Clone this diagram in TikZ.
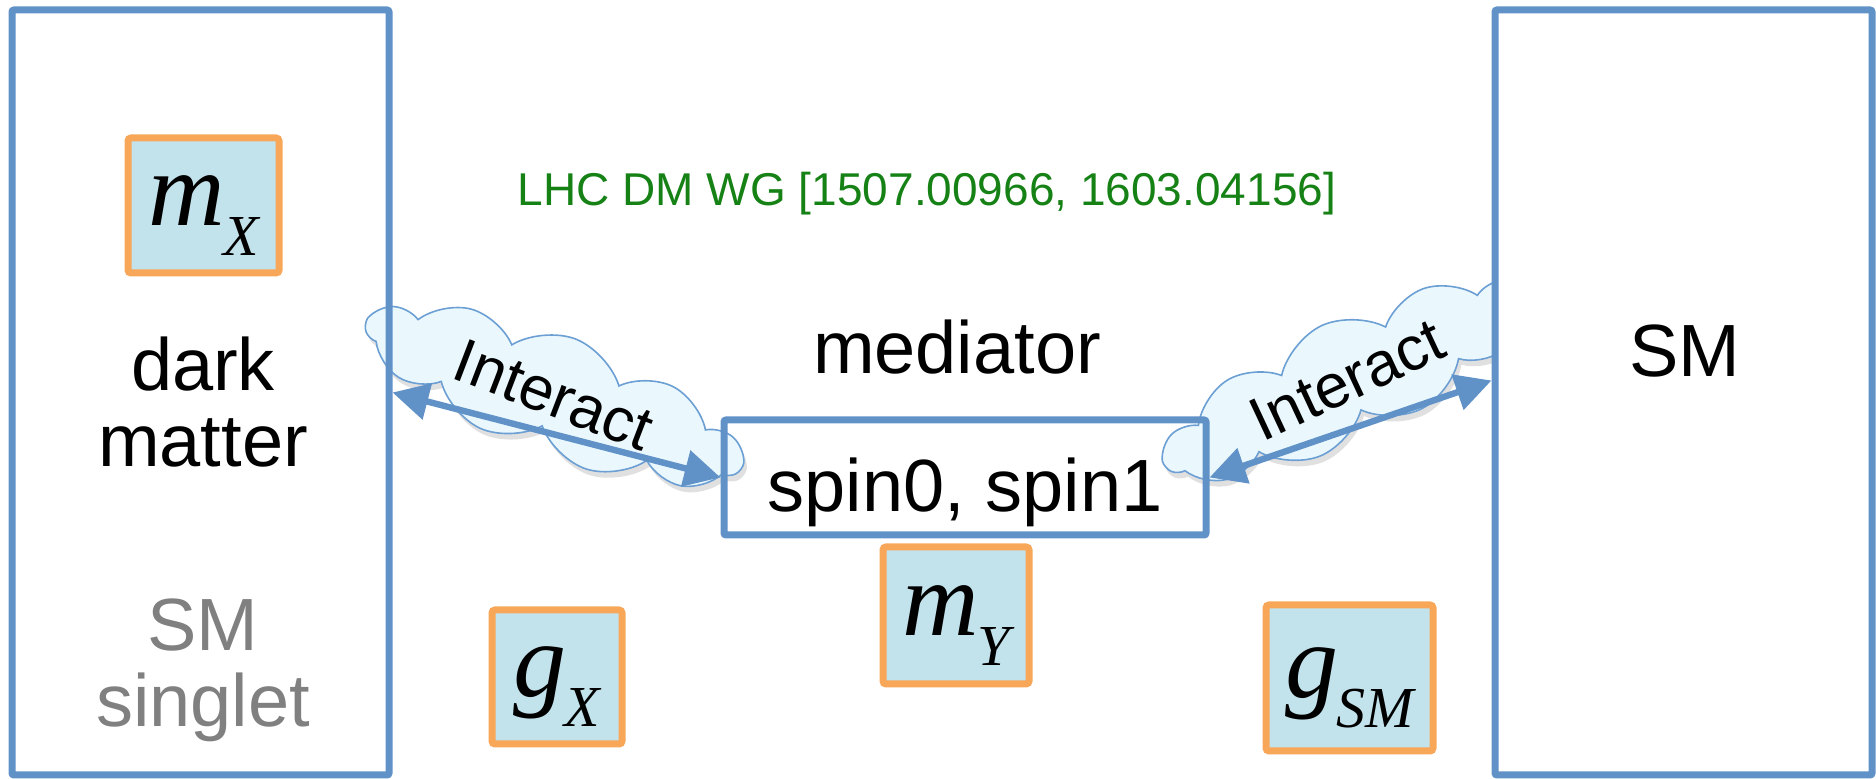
\documentclass[tikz,border=0pt]{standalone}
\usepackage{fontspec}
\setmainfont{Liberation Sans}
\newfontfamily\tms{Liberation Serif}
\usetikzlibrary{shapes.symbols,shadows,arrows.meta,calc}
\definecolor{bblue}{RGB}{96,146,200}
\definecolor{oorange}{RGB}{248,167,88}
\definecolor{pfill}{RGB}{195,227,236}
\definecolor{cfill}{RGB}{234,248,254}
\definecolor{cblue}{RGB}{108,159,211}
\definecolor{ggreen}{RGB}{22,130,22}
\definecolor{ggray}{RGB}{128,128,128}
\newcommand{\prm}[2]{{\tms\itshape\fontsize{53}{53}\selectfont #1\kern-1pt\fontsize{29}{29}\selectfont\raisebox{-15pt}{#2}}}
\tikzset{
  bigbox/.style={draw=bblue, line width=3.5pt, rounded corners=1pt, inner sep=0pt},
  prmbox/.style={draw=oorange, fill=pfill, line width=3.5pt, rounded corners=1.5pt, inner sep=0pt, text height=30pt, text depth=10pt},
  txt/.style={font=\fontsize{37}{38}\selectfont, align=center, inner sep=0pt},
  cloudbox/.style={cloud, cloud puffs=11, cloud puff arc=105, cloud ignores aspect, draw=cblue, line width=0.8pt, fill=cfill,
    drop shadow={shadow xshift=1.5pt, shadow yshift=-3pt, opacity=0.2, fill=black!60},
    minimum width=200pt, minimum height=60pt, font=\fontsize{31}{31}\selectfont, inner sep=0pt},
  arr/.style={draw=bblue, line width=3.2pt, {Triangle[length=18pt,width=18pt]}-{Triangle[length=18pt,width=18pt]}}
}
\begin{document}
\begin{tikzpicture}[x=0.5pt, y=-0.5pt]
\useasboundingbox (0,0) rectangle (1876,779);
% clouds
\node[cloudbox, rotate=-21] (c1) at (554,395) {Interact};
\node[cloudbox, rotate=25] (c2) at (1347,380) {Interact};
% main boxes
\node[bigbox, minimum width=188.5pt, minimum height=382.5pt] (dm) at (200.5,392.5) {};
\node[bigbox, fill=white, minimum width=188.5pt, minimum height=382.5pt] (sm) at (1683.5,392.5) {};
\node[bigbox, minimum width=241pt, minimum height=57.5pt, font=\fontsize{37}{38}\selectfont, text height=37pt, text depth=3pt] (spin) at (965,477.5) {spin0, spin1};
% arrows
\draw[arr] (dm.east) -- (spin.west);
\draw[arr] (spin.east) -- ([yshift=6pt]sm.west);
% texts
\node[txt] (dmtext) at (203,402) {dark\\matter};
\node[txt, text=ggray] (singlet) at (203,670) {SM\\singlet};
\node[txt, anchor=base] (med) at (957,374) {mediator};
\node[txt, anchor=base] (smtext) at (1685,377) {SM};
\node[font=\fontsize{23}{23}\selectfont, text=ggreen, anchor=base, inner sep=0pt] (ref) at (927,206) {LHC DM WG [1507.00966, 1603.04156]};
% parameter boxes
\node[prmbox, minimum width=75.5pt, minimum height=67.5pt] (mx) at (203.5,205.5) {\prm{m}{X}};
\node[prmbox, minimum width=73pt, minimum height=68.5pt] (my) at (956,615.5) {\prm{m}{Y}};
\node[prmbox, minimum width=65pt, minimum height=67pt] (gx) at (557,677) {\prm{g}{X}};
\node[prmbox, minimum width=83.5pt, minimum height=73pt] (gsm) at (1349.5,678) {\prm{g}{SM}};
\end{tikzpicture}
\end{document}
